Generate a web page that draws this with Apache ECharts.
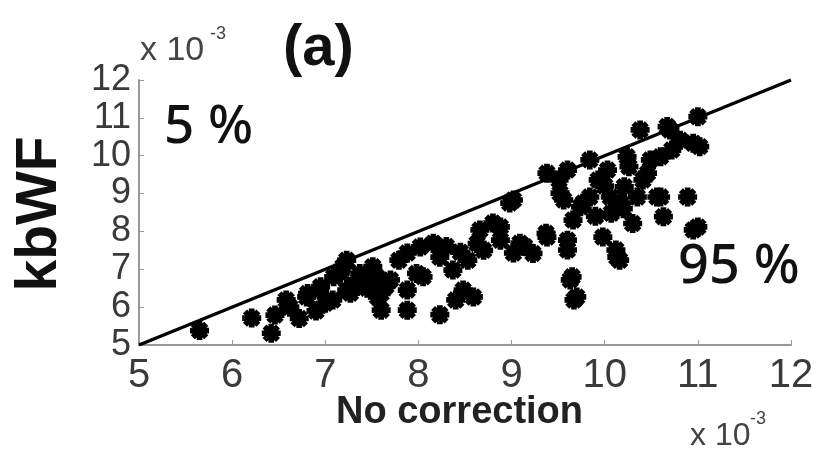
<!DOCTYPE html>
<html>
<head>
<meta charset="utf-8">
<script src="https://cdn.jsdelivr.net/npm/echarts@6/dist/echarts.min.js"></script>
<style>
  html, body { margin: 0; padding: 0; background: #fff; }
  #chart { width: 818px; height: 459px; }
</style>
</head>
<body>
<div id="chart"></div>
<script>
// values in units of 1e-3
const scatterX = [
  5.65, 6.21, 6.42, 6.46, 6.62, 6.72, 6.58, 6.80, 6.81, 6.94, 6.95, 7.08, 7.09, 7.16, 7.19,
  7.23, 7.23, 7.27, 7.37, 7.37, 7.51, 7.56, 7.60, 7.60, 7.70, 7.79, 7.88, 7.88, 7.88, 7.98,
  8.02, 8.05, 8.16, 8.23, 8.23, 8.40, 8.48, 8.59, 8.37, 8.53, 8.63, 8.66, 8.80, 8.88, 8.88,
  8.98, 9.02, 9.02, 9.09, 9.14, 9.23, 9.37, 9.38, 9.38, 9.51, 9.52, 9.60, 9.56, 9.60, 9.60,
  9.66, 9.63, 9.65, 9.70, 9.67, 9.74, 9.77, 9.84, 9.84, 9.93, 9.98, 10.03, 10.06, 10.07, 10.12,
  10.13, 10.16, 10.17, 10.21, 10.24, 10.26, 10.30, 10.35, 10.38, 10.41, 10.46, 10.49, 10.56, 10.60, 10.60,
  10.63, 10.67, 10.70, 10.72, 10.81, 10.89, 10.95, 10.95, 11.00, 11.00, 11.02,
  7.30, 7.45, 7.00, 6.90, 7.55, 7.65, 8.45, 8.70, 8.30, 10.00, 10.20, 9.90
];
const scatterY = [
  5.38, 5.71, 5.31, 5.79, 6.00, 5.70, 6.19, 6.27, 6.36, 6.45, 6.54, 6.19, 6.80, 6.90, 7.07,
  7.24, 6.45, 6.37, 6.72, 6.89, 7.07, 6.27, 6.36, 5.92, 6.72, 7.24, 5.92, 6.45, 7.43, 6.89,
  7.59, 6.80, 7.69, 7.32, 5.80, 6.19, 6.45, 6.27, 6.98, 7.24, 7.68, 8.04, 8.22, 7.77, 8.12,
  8.75, 8.83, 7.43, 7.69, 7.60, 7.42, 7.95, 7.85, 9.54, 9.36, 9.01, 9.62, 8.83, 7.77, 7.51,
  8.30, 6.72, 6.80, 6.27, 6.19, 8.65, 8.75, 9.89, 8.91, 9.36, 7.85, 9.62, 8.91, 8.48, 7.51,
  7.32, 7.24, 8.75, 9.18, 9.97, 9.71, 8.21, 8.91, 10.68, 9.36, 9.54, 9.89, 8.91, 9.97, 8.91,
  8.39, 10.77, 10.68, 10.15, 10.41, 8.91, 10.33, 8.04, 8.12, 11.03, 10.24,
  6.60, 6.50, 6.10, 5.90, 6.80, 6.55, 7.45, 7.50, 7.60, 9.20, 8.60, 8.40
];
const lineX = [5, 12];
const lineY = [5, 12];
const axisMin = 5;
const axisMax = 12;

const asterisk = 'path://M0,3.5L10,3.5L10,6.5L0,6.5Z' +
  'M3.5,0L6.5,0L6.5,10L3.5,10Z' +
  'M2.52,0.4L9.6,7.48L7.48,9.6L0.4,2.52Z' +
  'M7.48,0.4L9.6,2.52L2.52,9.6L0.4,7.48Z';

const chart = echarts.init(document.getElementById('chart'));

const tickFont = 'Liberation Sans, Arial, sans-serif';

chart.setOption({
  animation: false,
  grid: { left: 139, right: 27, top: 80, bottom: 114 },
  xAxis: {
    type: 'value', min: axisMin, max: axisMax, interval: 1,
    axisLine: { lineStyle: { color: '#999', width: 2 } },
    axisTick: { inside: true, length: 5, lineStyle: { color: '#999' } },
    splitLine: { show: false },
    axisLabel: { color: '#3a3a3a', fontFamily: tickFont, fontSize: 40, margin: 11, showMinLabel: true, showMaxLabel: true },
  },
  yAxis: {
    type: 'value', min: axisMin, max: axisMax, interval: 1,
    axisLine: { show: true, lineStyle: { color: '#999', width: 2 } },
    axisTick: { show: true, inside: true, length: 5, lineStyle: { color: '#999' } },
    splitLine: { show: false },
    axisLabel: { color: '#3a3a3a', fontFamily: tickFont, fontSize: 36, margin: 8, showMinLabel: true, showMaxLabel: true, hideOverlap: false },
  },
  series: [
    {
      type: 'line',
      data: lineX.map((x, i) => [x, lineY[i]]),
      symbol: 'none',
      lineStyle: { color: '#000', width: 3.5 },
      z: 3,
    },
    {
      type: 'scatter',
      data: scatterX.map((x, i) => [x, scatterY[i]]),
      symbol: asterisk,
      symbolSize: 19,
      itemStyle: { color: '#000', opacity: 1 },
      z: 2,
    },
  ],
  graphic: [
    { type: 'text', left: 283, top: 20, style: { text: '(a)', font: 'bold 58px Liberation Sans', fill: '#111' } },
    { type: 'text', left: 140, top: 34, style: { text: 'x 10', font: '34px Liberation Sans', fill: '#444' } },
    { type: 'text', left: 210, top: 25, style: { text: '-3', font: '18px Liberation Sans', fill: '#444' } },
    { type: 'text', left: 164, top: 101, style: { text: '5 %', font: '500 53px Noto Sans', fill: '#111' } },
    { type: 'text', left: 678, top: 241, style: { text: '95 %', font: '500 54px Noto Sans', fill: '#111' } },
    { type: 'text', left: 336, top: 394, style: { text: 'No correction', font: 'bold 38px Liberation Sans', fill: '#222' } },
    { type: 'text', left: 690, top: 420, style: { text: 'x 10', font: '32px Liberation Sans', fill: '#444' } },
    { type: 'text', left: 750, top: 410, style: { text: '-3', font: '18px Liberation Sans', fill: '#444' } },
    {
      type: 'text', x: 40, y: 214, rotation: Math.PI / 2,
      style: { text: 'kbWF', font: 'bold 57px Liberation Sans', fill: '#111', align: 'center', verticalAlign: 'middle' },
    },
  ],
});
</script>
</body>
</html>
